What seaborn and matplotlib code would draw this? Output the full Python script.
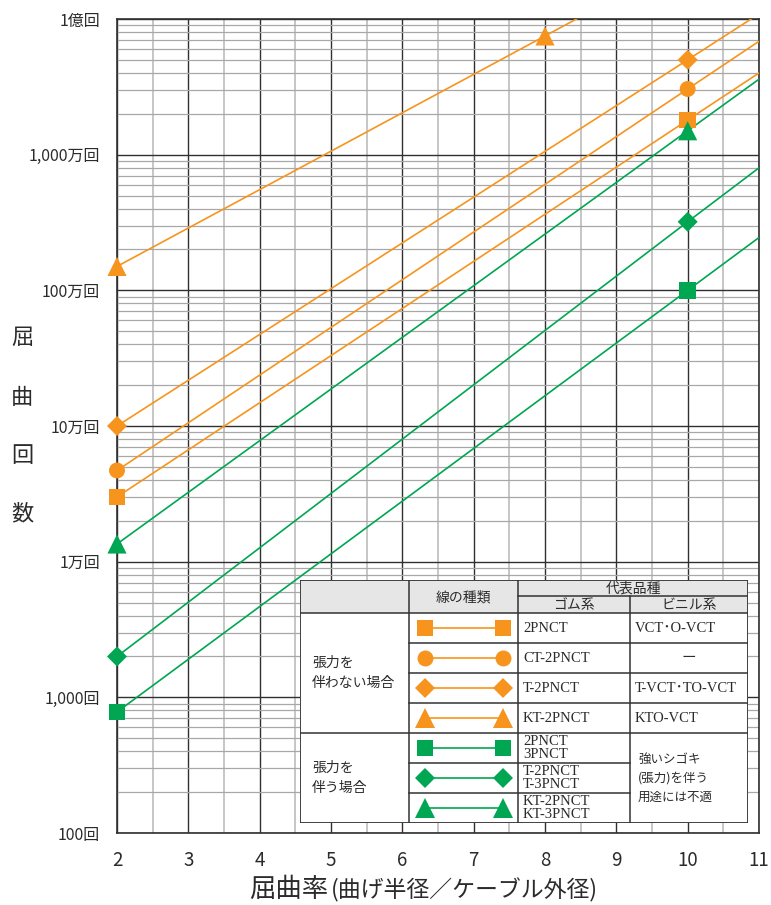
import numpy as np
import pandas as pd
import matplotlib
matplotlib.use("Agg")
import matplotlib.pyplot as plt
import seaborn as sns
from matplotlib.ticker import FixedLocator, LogLocator, NullFormatter
from matplotlib.patches import Rectangle
from matplotlib.lines import Line2D

# ---------------- data ----------------
series = ["2PNCT", "CT-2PNCT", "T-2PNCT", "KT-2PNCT",
          "2PNCT/3PNCT", "T-2PNCT/T-3PNCT", "KT-2PNCT/KT-3PNCT"]
group = ["none", "none", "none", "none", "tension", "tension", "tension"]
marker_shape = ["s", "o", "D", "^", "s", "D", "^"]
# marked points (屈曲率, 屈曲回数)
x_start = [2, 2, 2, 2, 2, 2, 2]
y_start = [3.0e4, 4.7e4, 1.0e5, 1.5e6, 780, 2000, 1.35e4]
x_mark = [10, 10, 10, 8, 10, 10, 10]
y_mark = [1.8e7, 3.05e7, 5.0e7, 7.5e7, 1.0e6, 3.2e6, 1.5e7]
# where each line leaves the chart at its right edge
x_end = [11, 11, 11, 11, 11, 11, 11]
y_end = [4.0e7, 6.85e7, 1.09e8, 5.3e8, 2.45e6, 8.0e6, 3.6e7]

x_ticks = [2, 3, 4, 5, 6, 7, 8, 9, 10, 11]
y_ticks = [1e2, 1e3, 1e4, 1e5, 1e6, 1e7, 1e8]
y_tick_labels = ["100回", "1,000回", "1万回", "10万回", "100万回", "1,000万回", "1億回"]

table_rubber = ["2PNCT", "CT-2PNCT", "T-2PNCT", "KT-2PNCT",
                "2PNCT\n3PNCT", "T-2PNCT\nT-3PNCT", "KT-2PNCT\nKT-3PNCT"]
table_vinyl = ["VCT･O-VCT", "ー", "T-VCT･TO-VCT", "KTO-VCT"]
table_vinyl_tension = "強いシゴキ\n(張力)を伴う\n用途には不適"

ORANGE = "#F7941D"
GREEN = "#00A651"
palette = {s: (ORANGE if g == "none" else GREEN) for s, g in zip(series, group)}
marker_map = dict(zip(series, marker_shape))
size_pt2 = {"s": 145, "o": 132, "D": 104, "^": 190}
sizes = {s: size_pt2[m] for s, m in zip(series, marker_shape)}

line_df = pd.DataFrame({
    "series": np.repeat(series, 3),
    "x": np.ravel(np.column_stack([x_start, x_mark, x_end])),
    "y": np.ravel(np.column_stack([y_start, y_mark, y_end])),
})
pt_df = pd.DataFrame({
    "series": np.repeat(series, 2),
    "x": np.ravel(np.column_stack([x_start, x_mark])),
    "y": np.ravel(np.column_stack([y_start, y_mark])),
})

# ---------------- style ----------------
sns.set_theme(style="white")
plt.rcParams["font.family"] = ["Noto Sans CJK JP", "DejaVu Sans"]
TXT = "#2b2b2b"

fig = plt.figure(figsize=(7.71, 9.05), dpi=100)
ax = fig.add_axes([117 / 771, 1 - 833 / 905, 642 / 771, 814 / 905])
ax.set_yscale("log")

sns.lineplot(data=line_df, x="x", y="y", hue="series", palette=palette,
             estimator=None, sort=True, legend=False, lw=1.2, ax=ax, zorder=3)
sns.scatterplot(data=pt_df, x="x", y="y", hue="series", style="series",
                size="series", sizes=sizes, markers=marker_map, palette=palette,
                linewidth=0, legend=False, ax=ax, zorder=4, clip_on=False)

ax.set_xlim(2, 11)
ax.set_ylim(1e2, 1e8)
ax.set_xticks(x_ticks)
ax.xaxis.set_minor_locator(FixedLocator(np.arange(2.5, 11, 1.0)))
ax.set_yticks(y_ticks)
ax.set_yticklabels(y_tick_labels)
ax.yaxis.set_minor_locator(LogLocator(base=10, subs=np.arange(2, 10), numticks=20))
ax.yaxis.set_minor_formatter(NullFormatter())
ax.set_xlabel("")
ax.set_ylabel("")

ax.grid(True, which="major", axis="both", color="#303030", lw=1.0, zorder=0)
ax.grid(True, which="minor", axis="x", color="#c6c6c6", lw=1.4, zorder=0)
ax.grid(True, which="minor", axis="y", color="#a8a8a8", lw=0.9, zorder=0)
ax.set_axisbelow(True)
for sp in ax.spines.values():
    sp.set_color("#303030")
    sp.set_linewidth(1.2)

ax.tick_params(axis="y", which="both", length=0, pad=12, labelsize=11.5, labelcolor=TXT)
ax.tick_params(axis="x", which="major", length=5, width=1.2, color="#303030",
               direction="out", pad=7, labelsize=13.5, labelcolor=TXT)
ax.tick_params(axis="x", which="minor", length=0)

# axis titles
for ch, ypx in zip("屈曲回数", [337, 397, 455, 514]):
    fig.text(22 / 771, 1 - ypx / 905, ch, ha="center", va="center",
             fontsize=16, color=TXT)
fig.text(328 / 771, 1 - 889 / 905, "屈曲率", ha="right", va="center",
         fontsize=19, color=TXT)
fig.text(331 / 771, 1 - 890 / 905, "(曲げ半径／ケーブル外径)", ha="left",
         va="center", fontsize=16.5, color=TXT)

# ---------------- table ----------------
tx0, tx1, ty0, ty1 = 300, 748, 580, 823
tax = ax.inset_axes([(tx0 - 117) / 642, (833 - ty1) / 814,
                     (tx1 - tx0) / 642, (ty1 - ty0) / 814])
W, H = tx1 - tx0, ty1 - ty0
tax.set_xlim(0, W)
tax.set_ylim(H, 0)
tax.set_xticks([])
tax.set_yticks([])
for sp in tax.spines.values():
    sp.set_visible(False)
tax.patch.set_alpha(0)
tax.set_zorder(6)

LC = "#333333"
LW = 1.1
tax.add_patch(Rectangle((0, 0), W, H, facecolor="white", edgecolor="none", zorder=0))
tax.add_patch(Rectangle((0, 0), W, 33, facecolor="#e6e6e6", edgecolor="none", zorder=0.5))

def hline(y, xa, xb):
    tax.plot([xa, xb], [y, y], color=LC, lw=LW, zorder=2, solid_capstyle="projecting")

def vline(x, ya, yb):
    tax.plot([x, x], [ya, yb], color=LC, lw=LW, zorder=2, solid_capstyle="projecting")

tax.add_patch(Rectangle((0, 0), W, H, facecolor="none", edgecolor=LC, lw=1.3, zorder=3))
vline(109, 0, H)
vline(218, 0, H)
vline(330, 16, H)
hline(16, 218, W)
hline(33, 0, W)
hline(63, 109, W)
hline(93, 109, W)
hline(123, 109, W)
hline(153, 0, W)
hline(183, 109, 330)
hline(213, 109, 330)

JP = ["Noto Sans CJK JP", "DejaVu Sans"]
SERIF = ["Liberation Serif", "Noto Sans CJK JP"]
tax.text(163.5, 17, "線の種類", ha="center", va="center", fontsize=10, color=TXT, family=JP)
tax.text(333, 8.5, "代表品種", ha="center", va="center", fontsize=10, color=TXT, family=JP)
tax.text(274, 25, "ゴム系", ha="center", va="center", fontsize=10, color=TXT, family=JP)
tax.text(389, 25, "ビニル系", ha="center", va="center", fontsize=10, color=TXT, family=JP)
tax.text(12, 93, "張力を\n伴わない場合", ha="left", va="center", fontsize=10,
         color=TXT, family=JP, linespacing=1.5)
tax.text(12, 198, "張力を\n伴う場合", ha="left", va="center", fontsize=10,
         color=TXT, family=JP, linespacing=1.5)

row_centers = [48, 78, 108, 138, 168, 198, 228]
for i, (s, yc) in enumerate(zip(series, row_centers)):
    c = palette[s]
    m = marker_map[s]
    ms = np.sqrt(sizes[s])
    tax.add_line(Line2D([125, 203], [yc, yc], color=c, lw=1.2, marker=m,
                        markersize=ms, markeredgewidth=0, zorder=4))
    tax.text(223, yc, table_rubber[i], ha="left", va="center", fontsize=10.5,
             color=TXT, family=SERIF, linespacing=1.0)
for i, txt in enumerate(table_vinyl):
    if txt == "ー":
        tax.text(389, row_centers[i], txt, ha="center", va="center", fontsize=10.5,
                 color=TXT, family=JP)
    else:
        tax.text(335, row_centers[i], txt, ha="left", va="center", fontsize=10.5,
                 color=TXT, family=SERIF)
tax.text(338, 198, table_vinyl_tension, ha="left", va="center", fontsize=9,
         color=TXT, family=JP, linespacing=1.6)

fig.savefig("out.png", dpi=100)
